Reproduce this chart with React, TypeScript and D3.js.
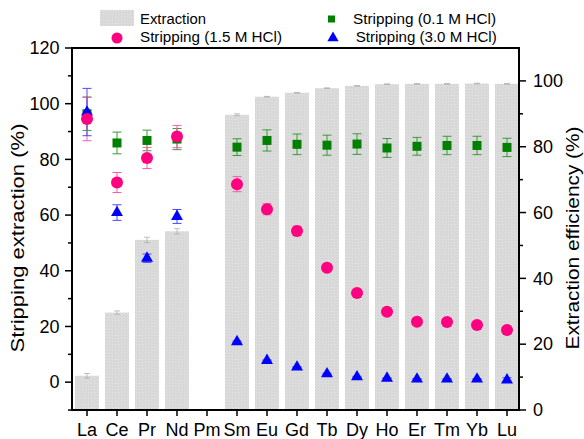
import React from "react";
import * as d3 from "d3";

const categories = ["La","Ce","Pr","Nd","Pm","Sm","Eu","Gd","Tb","Dy","Ho","Er","Tm","Yb","Lu"];
const extraction: (number|null)[] = [10.4,29.6,51.7,54.3,null,89.7,95.2,96.4,97.8,98.5,99.0,99.1,99.1,99.2,99.1];
const extractionErr: (number|null)[] = [0.7,0.5,0.8,0.8,null,0.3,0.1,0.1,0.1,0.1,0.1,0.1,0.1,0.1,0.1];
const strip15: (number|null)[] = [94.5,71.7,80.5,88.2,null,71.1,62.1,54.3,41.1,32.0,25.3,21.7,21.6,20.5,18.7];
const strip15Err: (number|null)[] = [7.8,3.6,3.8,4.0,null,2.7,2.0,1.7,1.0,0.8,0.3,0.3,0.3,0.3,0.3];
const strip01: (number|null)[] = [96.4,85.9,86.8,87.3,null,84.4,86.8,85.4,85.1,85.5,84.1,84.7,85.0,85.0,84.3];
const strip01Err: (number|null)[] = [6.0,3.9,3.7,3.8,null,3.0,3.8,3.7,3.6,3.7,3.4,3.2,3.3,3.3,3.3];
const strip30: (number|null)[] = [97.0,60.9,44.5,59.5,null,14.5,7.8,5.4,3.0,1.9,1.4,1.1,1.1,1.1,0.8];
const strip30Err: (number|null)[] = [8.5,2.8,1.5,2.5,null,0.3,0.2,0.2,0.2,0.2,0.2,0.2,0.2,0.2,0.8];
const leftTicks = [0,20,40,60,80,100,120];
const leftMinor = [-10,10,30,50,70,90,110];
const rightTicks = [0,20,40,60,80,100];
const rightMinor = [10,30,50,70,90];

const W = 584, H = 439;
const L = 72, R = 519, T = 48, B = 410;
const FONT = "'Liberation Sans', Arial, sans-serif";

export default function App() {
  const x = d3.scaleBand<string>().domain(categories).range([L, 522]).paddingInner(0.2).paddingOuter(0.1);
  const cx = (c: string) => (x(c) as number) + x.bandwidth() / 2;
  const yL = d3.scaleLinear().domain([-10, 120]).range([B, T]);
  const yR = d3.scaleLinear().domain([0, 110]).range([B, T]);
  const bw = 24;
  const cap = 4.5;
  const tri = d3.symbol().type(d3.symbolTriangle).size(62)();

  const errBar = (vals: (number|null)[], errs: (number|null)[], color: string, key: string) =>
    categories.map((c, i) => {
      const v = vals[i], e = errs[i];
      if (v == null || e == null) return null;
      const X = cx(c), y1 = yL(v + e), y2 = yL(v - e);
      return (
        <g key={key + i} stroke={color} strokeWidth={1}>
          <line x1={X} x2={X} y1={y1} y2={y2} />
          <line x1={X - cap} x2={X + cap} y1={y1} y2={y1} />
          <line x1={X - cap} x2={X + cap} y1={y2} y2={y2} />
        </g>
      );
    });

  return (
    <svg width={W} height={H} style={{ position: "absolute", left: 0, top: 0, background: "#fff" }} fontFamily={FONT}>
      <defs>
        <pattern id="hatch" width="3" height="3" patternUnits="userSpaceOnUse">
          <rect width="3" height="3" fill="#dcdcdc" />
          <rect width="1" height="1" fill="#cfcfcf" />
          <rect x="2" y="1" width="1" height="1" fill="#d4d4d4" />
        </pattern>
      </defs>

      {/* bars */}
      {categories.map((c, i) => {
        const v = extraction[i];
        if (v == null) return null;
        const X = cx(c);
        return <rect key={"b" + i} x={X - bw / 2} y={yR(v)} width={bw} height={B - yR(v)} fill="url(#hatch)" />;
      })}
      {categories.map((c, i) => {
        const v = extraction[i], e = extractionErr[i];
        if (v == null || e == null) return null;
        const X = cx(c);
        return (
          <g key={"be" + i} stroke="#b0b0b0" strokeWidth={0.8}>
            <line x1={X} x2={X} y1={yR(v + e)} y2={yR(v - e)} />
            <line x1={X - 3} x2={X + 3} y1={yR(v + e)} y2={yR(v + e)} />
            <line x1={X - 3} x2={X + 3} y1={yR(v - e)} y2={yR(v - e)} />
          </g>
        );
      })}

      {/* error bars */}
      {errBar(strip01, strip01Err, "#3a9a3a", "ge")}
      {errBar(strip15, strip15Err, "#ff5aa5", "pe")}
      {errBar(strip30, strip30Err, "#4a4aff", "te")}

      {/* markers */}
      {categories.map((c, i) => strip01[i] == null ? null : (
        <rect key={"g" + i} x={cx(c) - 4.5} y={yL(strip01[i] as number) - 4.5} width={9} height={9} fill="#008000" />
      ))}
      {categories.map((c, i) => strip30[i] == null ? null : (
        <path key={"t" + i} d={tri as string} transform={`translate(${cx(c)},${yL(strip30[i] as number)})`} fill="#0000ff" />
      ))}
      {categories.map((c, i) => strip15[i] == null ? null : (
        <circle key={"p" + i} cx={cx(c)} cy={yL(strip15[i] as number)} r={6} fill="#ff0080" />
      ))}

      {/* frame */}
      <g stroke="#000" strokeWidth={2} fill="none">
        <line x1={L} x2={L} y1={T} y2={B + 1} />
        <line x1={R} x2={R} y1={T} y2={B + 1} />
        <line x1={L - 1} x2={R + 1} y1={T} y2={T} />
        <line x1={L - 1} x2={R + 1} y1={B} y2={B} />
      </g>

      {/* ticks */}
      <g stroke="#000" strokeWidth={1.5}>
        {leftTicks.map(t => <line key={"lt" + t} x1={L - 7} x2={L} y1={yL(t)} y2={yL(t)} />)}
        {leftMinor.map(t => <line key={"lm" + t} x1={L - 4} x2={L} y1={yL(t)} y2={yL(t)} />)}
        {rightTicks.map(t => <line key={"rt" + t} x1={R} x2={R + 7} y1={yR(t)} y2={yR(t)} />)}
        {rightMinor.map(t => <line key={"rm" + t} x1={R} x2={R + 4} y1={yR(t)} y2={yR(t)} />)}
        {categories.map(c => <line key={"bt" + c} x1={cx(c)} x2={cx(c)} y1={B} y2={B + 6} />)}
      </g>
      <g fontSize={18} fill="#000">
        {leftTicks.map(t => (
          <text key={"ltl" + t} x={L - 12.5} y={yL(t)} dy="0.35em" textAnchor="end">{t}</text>
        ))}
        {rightTicks.map(t => (
          <text key={"rtl" + t} x={R + 14} y={yR(t)} dy="0.35em" textAnchor="start">{t}</text>
        ))}
        {categories.map(c => (
          <text key={"btl" + c} x={cx(c)} y={435.5} textAnchor="middle">{c}</text>
        ))}
        <text transform={`translate(24,238) rotate(-90)`} textAnchor="middle" fontSize={19} textLength={229} lengthAdjust="spacingAndGlyphs">Stripping extraction (%)</text>
        <text transform={`translate(579,238) rotate(-90)`} textAnchor="middle" fontSize={19} textLength={223} lengthAdjust="spacingAndGlyphs">Extraction efficiency (%)</text>
      </g>

      {/* legend */}
      <g fontSize={14} fill="#000">
        <rect x={100} y={10} width={34} height={16} fill="url(#hatch)" />
        <text x={140} y={24} textLength={66} lengthAdjust="spacingAndGlyphs">Extraction</text>
        <circle cx={117} cy={38} r={5.5} fill="#ff0080" />
        <text x={140} y={42.3} textLength={142} lengthAdjust="spacingAndGlyphs">Stripping (1.5 M HCl)</text>
        <rect x={328} y={15.5} width={7} height={7} fill="#008000" />
        <text x={353} y={24} textLength={143} lengthAdjust="spacingAndGlyphs">Stripping (0.1 M HCl)</text>
        <path d={d3.symbol().type(d3.symbolTriangle).size(55)() as string} transform="translate(333,38)" fill="#0000ff" />
        <text x={355.7} y={42.3} textLength={141} lengthAdjust="spacingAndGlyphs">Stripping (3.0 M HCl)</text>
      </g>
    </svg>
  );
}
